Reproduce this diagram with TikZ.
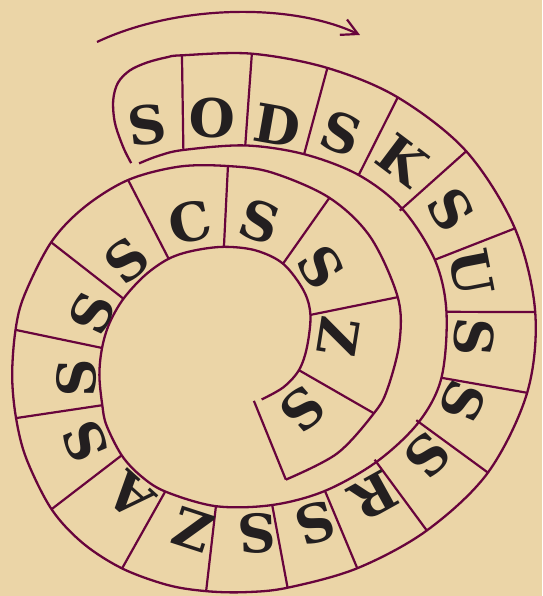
\documentclass[tikz,border=0pt]{standalone}
\usepackage{fontspec}
\usepackage{tikz}
\usetikzlibrary{arrows.meta}
\newfontfamily\letterfont{DejaVu Serif}
\definecolor{parchment}{RGB}{235,213,167}
\definecolor{wine}{RGB}{104,4,60}
\definecolor{ink}{RGB}{35,31,32}
\tikzset{
    % the two edges of the spiral strip
    band/.style={draw=wine, line width=2.3pt, line join=round},
    % walls between the cells of the strip
    wall/.style={draw=wine, line width=2.2pt},
    % the letters written on the strip
    letter/.style={font=\letterfont\bfseries\fontsize{53}{53}\selectfont, text=ink, inner sep=0pt},
    % reading direction
    readarrow/.style={draw=wine, line width=2.2pt,
        -{Straight Barb[length=16pt, width=17pt, line width=2.2pt]}},
}

\begin{document}
\begin{tikzpicture}[x=1pt, y=-1pt]

    \fill[parchment] (0,0) rectangle (542,596);
    \useasboundingbox (0,0) rectangle (542,596);

    % spiral drawn in polar coordinates (angle:radius) round its middle
    \begin{scope}[shift={(232,345)}, x=1pt, y=1pt]

        % ---- outer edge, from the rounded start inwards ----
        \draw[band] plot[smooth, tension=0.55] coordinates {
            (119.0:208) (118.8:226) (117.8:251) (115.9:272) (113.5:286)
            (110.4:293) (106.7:295) (102.7:295) (99.8:294) (86.1:292)
            (71.0:293) (56.2:298) (39.6:304) (22.4:306) (6.2:305)
            (-9.2:299) (-26.5:286) (-43.6:269) (-60.7:256) (-77.1:249)
            (-87:247.5) (-96:247.5) (-105:248.5) (-116.2:249) (-127:248)
            (-137.7:244) (-151:235) (-161.3:228) (-172:222) (-184:217)
            (-193.5:213.5) (-209.6:208) (-223:202) (-237.8:195) (-253.6:186)
            (-268.7:179) (-283:177) (-303.5:176.5) (-322:175.5) (-343.9:172.5)
            (-359:167.5) (-376:161.5) (-385.7:157.5) (-406:151) (-428.2:145)};

        % ---- inner edge ----
        \draw[band] plot[smooth, tension=0.55] coordinates {
            (117.1:204) (111.4:203) (104:201) (86.2:200) (69.3:204)
            (53.3:212) (38.7:218) (22.8:220) (8.8:217) (-8.9:212)
            (-22.5:202) (-38.8:186) (-57.5:173) (-75.9:165) (-95.7:162)
            (-114.5:161) (-125:159.5) (-135:156) (-147.4:149) (-155.1:143)
            (-167.2:136) (-178.7:130) (-190:124.5) (-203.1:118) (-218.8:111.5)
            (-233.7:107) (-247.5:102) (-265.3:98.5) (-284:97.5) (-302.1:96)
            (-322.6:90) (-339:84) (-361.6:75) (-380.6:71.5) (-399.6:66.5)
            (-421.4:62)};

        % closing end in the middle
        \coordinate (outerend) at (-428.2:145);
        \coordinate (innerend) at (-428.6:60);
        \draw[wall] (outerend) -- (innerend);

        % ---- cell walls (outer angle/radius, inner angle/radius) ----
        \foreach \ao/\ro/\ai/\ri in {
            99.8/294/104/201, 86.1/292/86.2/200, 71/293/69.3/204,
            56.2/298/53.3/212, 39.6/304/38.7/215, 22.4/306/22.8/220,
            6.2/305/8.8/217, -9.2/299/-8.9/212, -26.5/286/-22.2/199,
            -43.6/269/-38.8/183, -60.7/256/-57.5/173, -77.1/249/-75.9/165,
            -96/247.5/-95.7/162, -116.2/249/-114.5/161, -137.7/244/-135/156,
            -161.3/228/-155.1/143, -184/217/-178.7/130, -209.6/208/-203.1/118,
            -237.8/195/-233.7/107, -268.7/179/-265.3/98.5, -303.5/176.5/-302.1/96,
            -343.9/172.5/-339/84, -385.7/157.5/-380.6/71.5}{
            \draw[wall] (\ao:\ro) -- (\ai:\ri);
        }
    \end{scope}

    % ---- letters, in reading order ----
    \foreach \lx/\ly/\rot/\ch [count=\i] in {
        147/125/7/S, 212/118/-2/O, 277/125/-10/D, 341/133/-21/S,
        403/160/-37/K, 451/210/-58/S, 471/273/-79/U, 474/337/-95/S,
        463/402/-113/S, 428/456/-135/S, 374/496/-151/R, 315/523/-164/S,
        257/533/-178/S, 193/530/-198/Z, 130/496/-222/A, 85/441/-247/S,
        77/378/-271/S, 92/313/-295/S, 127/260/-320/S, 190/222/-348/C,
        260/221/-379/S, 321/267/-417/S, 339/337/-459/Z, 303/410/-499/S}{
        \node[letter, rotate=\rot] (l\i) at (\lx,\ly) {\ch};
    }

    % ---- reading direction ----
    \coordinate (arrowstart) at (97,42);
    \coordinate (arrowtip) at (360,35);
    \draw[readarrow] (arrowstart) .. controls (175,5) and (290,2) .. (arrowtip);

\end{tikzpicture}
\end{document}
